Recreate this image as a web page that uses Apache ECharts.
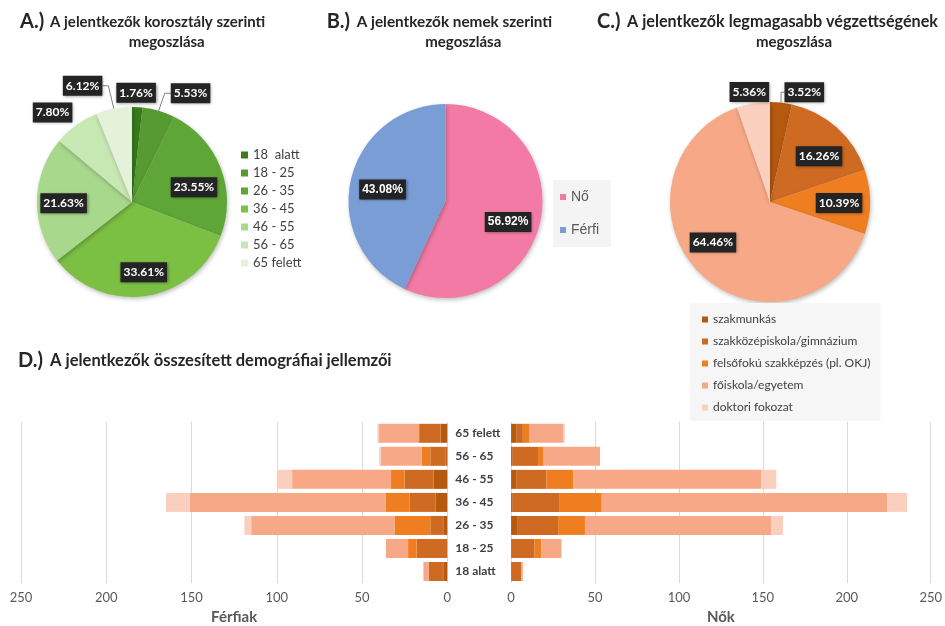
<!DOCTYPE html>
<html>
<head>
<meta charset="utf-8">
<script src="https://cdn.jsdelivr.net/npm/echarts@6/dist/echarts.min.js"></script>
<style>
  html, body { margin: 0; padding: 0; background: #ffffff; }
  #chart { width: 945px; height: 626px; }
</style>
</head>
<body>
<div id="chart"></div>
<script>
// ---- Data ----------------------------------------------------------
const ageGroups = ['18 alatt', '18 - 25', '26 - 35', '36 - 45', '46 - 55', '56 - 65', '65 felett'];
const agePercent = [1.76, 5.53, 23.55, 33.61, 21.63, 7.80, 6.12];

const genders = ['Nő', 'Férfi'];
const genderPercent = [56.92, 43.08];

const eduLevels = ['szakmunkás', 'szakközépiskola/gimnázium', 'felsőfokú szakképzés (pl. OKJ)', 'főiskola/egyetem', 'doktori fokozat'];
const eduPercent = [3.52, 16.26, 10.39, 64.46, 5.36];

// Head counts per age group (same order as ageGroups)
const menSzakmunkas   = [2, 0, 2, 7, 8, 1, 4];
const menSzakkozep    = [9, 18, 8, 15, 17, 9, 12];
const menFelsofoku    = [0, 5, 21, 14, 8, 5, 1];
const menFoiskola     = [3, 13, 84, 115, 58, 24, 23];
const menDoktori      = [0, 0, 4, 14, 9, 1, 1];

const womenSzakmunkas = [0, 0, 4, 1, 3, 1, 3];
const womenSzakkozep  = [6, 14, 24, 28, 18, 15, 4];
const womenFelsofoku  = [0, 4, 16, 25, 16, 3, 4];
const womenFoiskola   = [1, 12, 111, 170, 112, 34, 20];
const womenDoktori    = [0, 0, 7, 12, 9, 0, 1];

const axisTicks = [0, 50, 100, 150, 200, 250];

// ---- Styling -------------------------------------------------------
const greenShades  = ['#3b7b1d', '#559b31', '#5ea737', '#7bc043', '#a8d88b', '#c7e7b3', '#e3f2d8'];
const genderColors = ['#f47aa6', '#7a9dd5'];
const orangeShades = ['#b5590f', '#cf6a22', '#ef7e21', '#f7a886', '#fbcfbd'];
const FONT = 'Lato';

const menSeries = [menSzakmunkas, menSzakkozep, menFelsofoku, menFoiskola, menDoktori];
const womenSeries = [womenSzakmunkas, womenSzakkozep, womenFelsofoku, womenFoiskola, womenDoktori];

const pieA = { center: [132, 202], radius: 95 };
const pieB = { center: [445.5, 201], radius: 97 };
const pieC = { center: [770, 202], radius: 100 };

// label placement: [radius factor, angular shift from slice mid-angle (deg)]
const spotsA = [[1.15, -1], [1.30, 12], [0.67, 8], [0.75, -1], [0.72, -2], [1.26, -5.5], [1.33, -12]];
const spotsB = [[0.68, 6], [0.66, -2]];
const spotsC = [[1.15, 11], [0.67, 5], [0.69, 1], [0.70, 10], [1.12, -1]];

function spotLayout(values, geo, spots) {
  const total = values.reduce((a, b) => a + b, 0);
  const starts = [];
  let acc = 0;
  values.forEach(v => { starts.push(acc); acc += v; });
  return function (p) {
    const i = p.dataIndex;
    const mid = (starts[i] + values[i] / 2) / total * 360 + spots[i][1];
    const a = mid * Math.PI / 180;
    const r = geo.radius * spots[i][0];
    return {
      x: geo.center[0] + r * Math.sin(a),
      y: geo.center[1] - r * Math.cos(a),
      align: 'center',
      verticalAlign: 'middle'
    };
  };
}

function pctLabel(family) {
  return {
    show: true,
    position: 'outside',
    formatter: p => p.value.toFixed(2) + '%',
    color: '#ffffff',
    fontFamily: family,
    fontWeight: 'bold',
    fontSize: 12,
    backgroundColor: '#242424',
    padding: [4, 3, 4, 3],
    shadowBlur: 3,
    shadowColor: 'rgba(0,0,0,0.45)',
    shadowOffsetX: 1,
    shadowOffsetY: 1
  };
}

const sliceShadow = {
  shadowBlur: 4,
  shadowColor: 'rgba(0,0,0,0.25)',
  shadowOffsetX: 1,
  shadowOffsetY: 2
};

const leader = { show: true, length: 6, length2: 6, lineStyle: { color: '#808080', width: 1 } };

function pieData(names, values, colors, leaderIdx) {
  return names.map((n, i) => {
    const item = { name: n, value: values[i], itemStyle: { color: colors[i] } };
    if (leaderIdx.indexOf(i) >= 0) item.labelLine = leader;
    return item;
  });
}

// ---- Titles --------------------------------------------------------
function titleTexts(prefix, x0, xText, line1, size1, line2, x2, y1, y2) {
  const els = [
    { type: 'text', x: x0, y: y1, style: { text: prefix, font: 'bold 20px ' + FONT, fill: '#262626', textAlign: 'left', textVerticalAlign: 'middle' } },
    { type: 'text', x: xText, y: y1, style: { text: line1, font: 'bold ' + size1 + 'px ' + FONT, fill: '#262626', textAlign: 'left', textVerticalAlign: 'middle' } }
  ];
  if (line2) {
    els.push({ type: 'text', x: x2, y: y2, style: { text: line2, font: 'bold 15px ' + FONT, fill: '#262626', textAlign: 'center', textVerticalAlign: 'middle' } });
  }
  return els;
}

const graphics = [].concat(
  titleTexts('A.)', 20, 50, 'A jelentkezők korosztály szerinti', 15, 'megoszlása', 166.7, 22, 42),
  titleTexts('B.)', 326.7, 356.7, 'A jelentkezők nemek szerinti', 15.3, 'megoszlása', 463.3, 22, 42),
  titleTexts('C.)', 597, 627, 'A jelentkezők legmagasabb végzettségének', 16.2, 'megoszlása', 794, 22, 42),
  titleTexts('D.)', 18, 50, 'A jelentkezők összesített demográfiai jellemzői', 16.5, null, 0, 361, 0)
);

// ---- Bars ----------------------------------------------------------
const bars = [];
eduLevels.forEach((name, k) => {
  bars.push({
    type: 'bar', name: name, stack: 'ferfi', xAxisIndex: 0, yAxisIndex: 0,
    data: menSeries[k], barWidth: 19, itemStyle: { color: orangeShades[k] }
  });
});
eduLevels.forEach((name, k) => {
  bars.push({
    type: 'bar', name: name, stack: 'no', xAxisIndex: 1, yAxisIndex: 1,
    data: womenSeries[k], barWidth: 19, itemStyle: { color: orangeShades[k] }
  });
});

const valueAxisCommon = {
  type: 'value',
  min: axisTicks[0],
  max: axisTicks[axisTicks.length - 1],
  interval: axisTicks[1] - axisTicks[0],
  axisLine: { show: false },
  axisTick: { show: false },
  splitLine: { lineStyle: { color: '#d9d9d9', width: 1 } },
  axisLabel: { color: '#595959', fontFamily: FONT, fontSize: 13, margin: 8 },
  nameLocation: 'middle',
  nameGap: 27,
  nameTextStyle: { color: '#595959', fontFamily: FONT, fontSize: 15, fontWeight: 'bold' }
};

const option = {
  backgroundColor: '#ffffff',
  animation: false,
  graphic: graphics,
  legend: [
    {
      data: ageGroups, orient: 'vertical', left: 241, top: 148, padding: 0,
      itemWidth: 7, itemHeight: 7, itemGap: 4, icon: 'rect',
      formatter: n => n === '18 alatt' ? '18  alatt' : n,
      textStyle: { color: '#404040', fontFamily: FONT, fontSize: 13, lineHeight: 14 }
    },
    {
      data: genders, orient: 'vertical', left: 553, top: 180, padding: [9, 12, 9, 7],
      backgroundColor: '#f4f4f4',
      itemWidth: 6, itemHeight: 6, itemGap: 17, icon: 'rect',
      textStyle: { color: '#595959', fontFamily: 'Liberation Sans', fontSize: 14, lineHeight: 16 }
    },
    {
      data: eduLevels, orient: 'vertical', left: 690, top: 303, padding: [9, 10, 6, 12],
      backgroundColor: '#f6f6f6',
      itemWidth: 6, itemHeight: 6, itemGap: 7, icon: 'rect',
      textStyle: { color: '#404040', fontFamily: FONT, fontSize: 12, lineHeight: 15 }
    }
  ],
  grid: [
    { left: 21, right: 497.7, top: 421.8, bottom: 42.7 },
    { left: 511.1, right: 7.3, top: 421.8, bottom: 42.7 }
  ],
  xAxis: [
    Object.assign({}, valueAxisCommon, { gridIndex: 0, inverse: true, name: 'Férfiak' }),
    Object.assign({}, valueAxisCommon, { gridIndex: 1, name: 'Nők' })
  ],
  yAxis: [
    {
      type: 'category', gridIndex: 0, data: ageGroups, position: 'right',
      axisLine: { show: false }, axisTick: { show: false },
      axisLabel: { align: 'left', margin: 8, color: '#404040', fontFamily: FONT, fontSize: 12, fontWeight: 'bold' }
    },
    {
      type: 'category', gridIndex: 1, data: ageGroups,
      axisLine: { show: false }, axisTick: { show: false }, axisLabel: { show: false }
    }
  ],
  series: [
    {
      type: 'pie', name: 'korosztály', center: pieA.center, radius: pieA.radius,
      startAngle: 90, clockwise: true, avoidLabelOverlap: false,
      itemStyle: sliceShadow,
      label: pctLabel(FONT), labelLine: { show: false },
      labelLayout: spotLayout(agePercent, pieA, spotsA),
      data: pieData(ageGroups, agePercent, greenShades, [1, 6])
    },
    {
      type: 'pie', name: 'nem', center: pieB.center, radius: pieB.radius,
      startAngle: 90, clockwise: true, avoidLabelOverlap: false,
      itemStyle: sliceShadow,
      label: pctLabel('Liberation Sans'), labelLine: { show: false },
      labelLayout: spotLayout(genderPercent, pieB, spotsB),
      data: pieData(genders, genderPercent, genderColors, [])
    },
    {
      type: 'pie', name: 'végzettség', center: pieC.center, radius: pieC.radius,
      startAngle: 90, clockwise: true, avoidLabelOverlap: false,
      itemStyle: sliceShadow,
      label: pctLabel(FONT), labelLine: { show: false },
      labelLayout: spotLayout(eduPercent, pieC, spotsC),
      data: pieData(eduLevels, eduPercent, orangeShades, [0])
    }
  ].concat(bars)
};

const chart = echarts.init(document.getElementById('chart'));
chart.setOption(option);
</script>
</body>
</html>
